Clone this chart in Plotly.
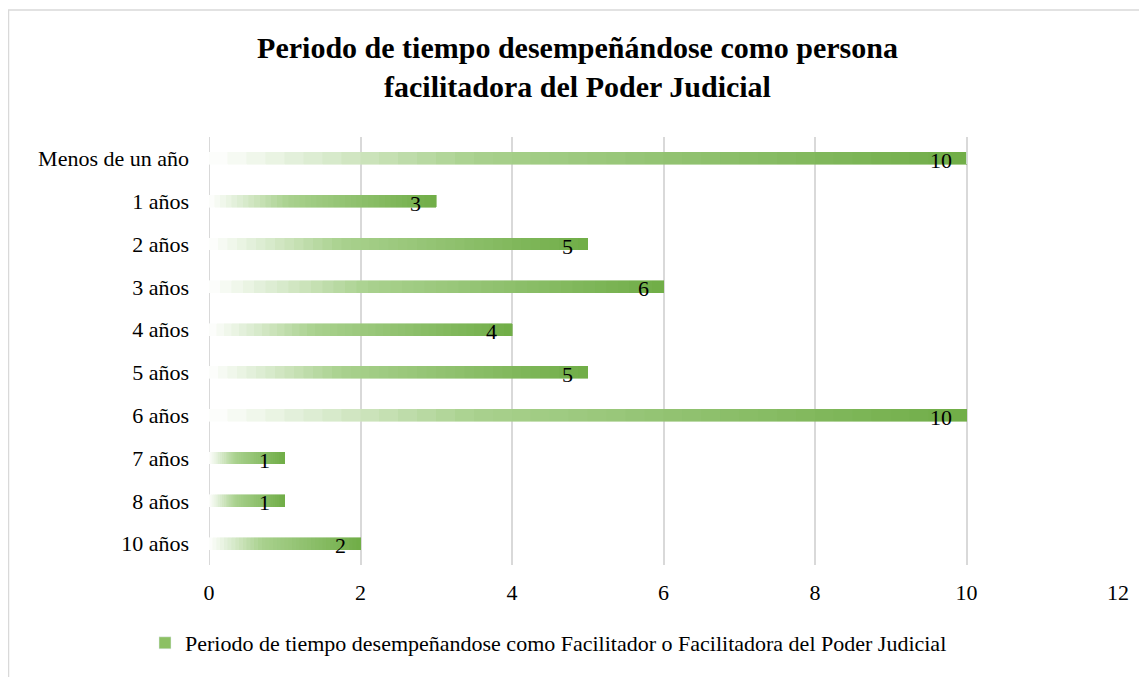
import plotly.graph_objects as go

categories = ["Menos de un año", "1 años", "2 años", "3 años", "4 años",
              "5 años", "6 años", "7 años", "8 años", "10 años"]
values = [10, 3, 5, 6, 4, 5, 10, 1, 1, 2]
x_ticks = [0, 2, 4, 6, 8, 10, 12]

title_text = "<b>Periodo de tiempo desempeñándose como persona<br>facilitadora del Poder Judicial</b>"
series_name = "Periodo de tiempo desempeñandose como Facilitador o Facilitadora del Poder Judicial"

FONT = "Liberation Serif, Times New Roman, serif"

# gradient stops (fraction along bar, rgb)
stops = [(0.0, (255, 255, 255)), (0.35, (169, 209, 142)), (1.0, (112, 173, 71))]


def grad_color(t):
    for (t0, c0), (t1, c1) in zip(stops[:-1], stops[1:]):
        if t <= t1:
            f = (t - t0) / (t1 - t0)
            c = [round(a + (b - a) * f) for a, b in zip(c0, c1)]
            return f"rgb({c[0]},{c[1]},{c[2]})"
    c = stops[-1][1]
    return f"rgb({c[0]},{c[1]},{c[2]})"


W, H = 1139, 669
L, R, T, B = 201, 29, 129, 112
PW, PH = W - L - R, H - T - B

N = 40
fig = go.Figure()
for k in range(N):
    col = grad_color((k + 0.5) / N)
    fig.add_trace(go.Bar(
        y=categories, x=[v / N for v in values], orientation="h",
        marker=dict(color=col, line=dict(width=0.6, color=col)),
        width=0.28, showlegend=False, hoverinfo="skip",
    ))

# legend entry
fig.add_trace(go.Bar(
    y=[categories[0]], x=[0], orientation="h", name=series_name,
    marker=dict(color="#8cc063"), showlegend=True, hoverinfo="skip",
))

for c, v in zip(categories, values):
    fig.add_annotation(x=v, y=c, text=str(v), showarrow=False,
                       xanchor="right", xshift=-13, yshift=-2,
                       font=dict(family=FONT, size=22, color="black"))

fig.update_layout(
    barmode="stack",
    width=W, height=H,
    paper_bgcolor="white", plot_bgcolor="white",
    margin=dict(l=L, r=R, t=T, b=B),
    title=dict(text=title_text, x=0.5, xref="container", xanchor="center",
               yref="container", y=1 - 50 / H, yanchor="top",
               font=dict(family=FONT, size=30, color="black")),
    font=dict(family=FONT, size=22, color="black"),
    xaxis=dict(range=[0, 12], tickvals=x_ticks, showgrid=True, gridcolor="#d9d9d9",
               gridwidth=2, zeroline=False, showline=False, ticks="",
               ticklabelstandoff=12, tickfont=dict(size=22)),
    yaxis=dict(autorange="reversed", showgrid=False, showline=False, ticks="",
               ticklabelstandoff=19, tickfont=dict(size=22)),
    legend=dict(orientation="h", xref="container", x=137 / W, xanchor="left",
                yref="container", y=(H - 614) / H, yanchor="top",
                font=dict(family=FONT, size=22)),
    bargap=0.72,
    shapes=[dict(type="line", xref="x", yref="paper", x0=0, x1=0, y0=0, y1=1,
                 line=dict(color="#d9d9d9", width=2), layer="below"),
            dict(type="rect", xref="paper", yref="paper",
                 x0=(0.5 - L) / PW, x1=(W + 5 - L) / PW,
                 y0=-(H + 5 - (T + PH)) / PH, y1=1 + (T - 2) / PH,
                 line=dict(color="#d9d9d9", width=1.5), fillcolor="rgba(0,0,0,0)")],
)

fig.write_html("out.html")
